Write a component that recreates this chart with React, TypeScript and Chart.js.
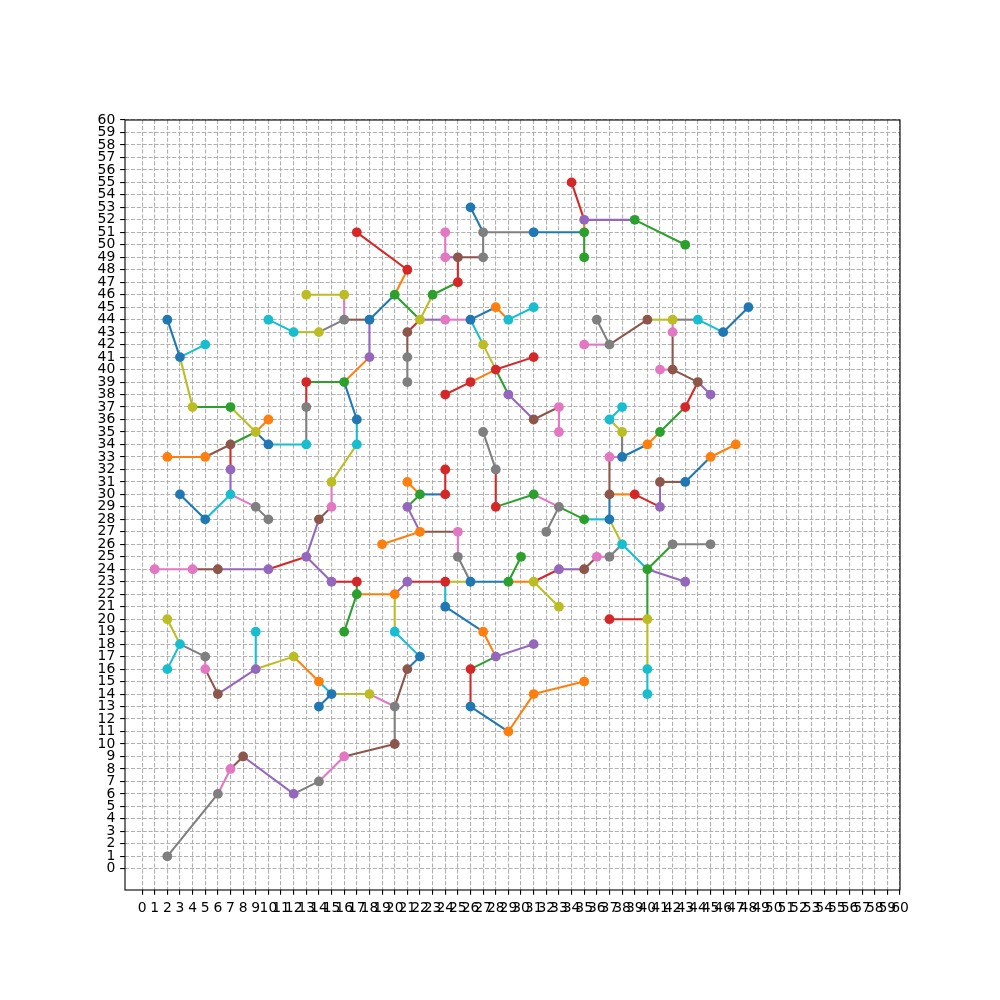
import React, { useEffect, useRef } from "react";
import { Chart, registerables } from "chart.js";

Chart.register(...registerables);

// ---- axis ticks ----
const xTickValues = [0,1,2,3,4,5,6,7,8,9,10,11,12,13,14,15,16,17,18,19,20,21,22,23,24,25,26,27,28,29,30,31,32,33,34,35,36,37,38,39,40,41,42,43,44,45,46,47,48,49,50,51,52,53,54,55,56,57,58,59,60];
const yTickValues = xTickValues;
const xLimits = [-1.35, 60];
const yLimits = [-1.7, 60];

// ---- edges (x1, y1, x2, y2) grouped by colour ----
const blueEdges = [
  [26,53,27,51],[31,51,35,51],[20,46,18,44],[16,39,17,36],[22,17,21,16],[15,14,14,13],
  [2,44,3,41],[9,35,10,34],[5,28,3,30],[26,44,28,45],[46,43,48,45],[40,34,38,33],
  [43,31,45,33],[37,30,37,28],[29,23,26,23],[22,30,24,30],[24,21,27,19],[26,13,29,11],
];
const orangeEdges = [
  [35,52,35,51],[20,46,21,48],[18,41,16,39],[17,22,20,22],[14,15,12,17],[9,35,10,36],
  [5,33,2,33],[28,45,29,44],[28,40,26,39],[41,35,40,34],[37,30,39,30],[45,33,47,34],
  [31,23,29,23],[22,27,19,26],[22,30,21,31],[27,19,28,17],[29,11,31,14],[31,14,35,15],
];
const greenEdges = [
  [39,52,43,50],[35,51,35,49],[25,47,23,46],[22,44,20,46],[16,39,13,39],[17,23,17,22],
  [17,22,16,19],[4,37,7,37],[9,35,7,34],[28,40,29,38],[43,37,41,35],[35,28,33,29],
  [31,30,28,29],[29,23,30,25],[21,29,22,30],[28,17,26,16],[40,24,42,26],[40,24,40,20],
];
const redEdges = [
  [34,55,35,52],[25,49,25,47],[21,48,17,51],[13,39,13,37],[13,25,10,24],[15,23,17,23],
  [7,34,7,32],[26,39,24,38],[28,40,31,41],[22,44,21,43],[44,39,43,37],[39,30,41,29],
  [28,29,28,32],[33,24,31,23],[24,30,24,32],[24,23,21,23],[26,16,26,13],[40,20,37,20],
];
const purpleEdges = [
  [35,52,39,52],[24,49,25,49],[18,44,18,41],[14,28,13,25],[10,24,6,24],[13,25,15,23],
  [9,16,6,14],[8,9,12,6],[7,32,7,30],[22,44,24,44],[29,38,31,36],[44,39,45,38],
  [41,29,41,31],[35,24,33,24],[22,27,21,29],[21,23,20,22],[28,17,31,18],[40,24,43,23],
];
const brownEdges = [
  [25,49,27,49],[18,44,16,44],[15,29,14,28],[6,24,4,24],[21,16,20,13],[6,14,5,16],
  [7,8,8,9],[16,9,20,10],[7,34,5,33],[31,36,33,37],[21,43,21,41],[37,42,40,44],
  [42,43,42,40],[42,40,44,39],[37,33,37,30],[41,31,43,31],[36,25,35,24],[25,27,22,27],
];
const pinkEdges = [
  [24,51,24,49],[16,44,16,46],[15,31,15,29],[4,24,1,24],[20,13,18,14],[5,16,5,17],
  [6,6,7,8],[14,7,16,9],[7,30,9,29],[24,44,26,44],[33,37,33,35],[37,42,35,42],
  [42,44,42,43],[42,40,41,40],[37,33,38,33],[31,30,33,29],[37,25,36,25],[25,25,25,27],
];
const grayEdges = [
  [27,51,31,51],[27,51,27,49],[16,44,14,43],[13,37,13,34],[20,13,20,10],[5,17,3,18],
  [2,1,6,6],[12,6,14,7],[9,29,10,28],[21,41,21,39],[36,44,37,42],[42,44,44,44],
  [38,35,38,33],[33,29,32,27],[28,32,27,35],[38,26,37,25],[26,23,25,25],[42,26,45,26],
];
const oliveEdges = [
  [23,46,22,44],[16,46,13,46],[14,43,12,43],[17,34,15,31],[20,22,20,19],[18,14,15,14],
  [12,17,9,16],[3,18,2,20],[3,41,4,37],[7,37,9,35],[27,42,28,40],[40,44,42,44],
  [37,36,38,35],[37,28,38,26],[31,23,33,21],[26,23,24,23],[40,20,40,16],
];
const cyanEdges = [
  [12,43,10,44],[17,36,17,34],[13,34,10,34],[20,19,22,17],[15,14,14,15],[9,16,9,19],
  [3,18,2,16],[3,41,5,42],[7,30,5,28],[29,44,31,45],[26,44,27,42],[44,44,46,43],
  [37,36,38,37],[37,28,35,28],[24,23,24,21],[38,26,40,24],[40,16,40,14],
];

// ---- visible markers (x, y) grouped by colour ----
const blueMarkers = [[26,53],[31,51],[18,44],[17,36],[22,17],[15,14],[14,13],[2,44],[3,41],[10,34],[5,28],[3,30],[26,44],[46,43],[48,45],[38,33],[43,31],[37,28],[26,23],[24,21],[26,13]];
const orangeMarkers = [[28,45],[10,36],[5,33],[2,33],[40,34],[45,33],[47,34],[22,27],[19,26],[21,31],[27,19],[29,11],[31,14],[35,15],[20,22],[14,15]];
const greenMarkers = [[39,52],[43,50],[35,51],[35,49],[23,46],[20,46],[16,39],[17,22],[16,19],[7,37],[41,35],[35,28],[31,30],[29,23],[30,25],[22,30],[40,24]];
const redMarkers = [[34,55],[25,47],[21,48],[17,51],[13,39],[17,23],[26,39],[24,38],[28,40],[31,41],[43,37],[39,30],[28,29],[24,30],[24,32],[24,23],[26,16],[37,20]];
const purpleMarkers = [[35,52],[18,41],[13,25],[10,24],[15,23],[9,16],[12,6],[7,32],[29,38],[45,38],[41,29],[33,24],[21,29],[21,23],[28,17],[31,18],[43,23]];
const brownMarkers = [[25,49],[14,28],[6,24],[21,16],[6,14],[8,9],[20,10],[7,34],[31,36],[21,43],[40,44],[42,40],[44,39],[41,31],[37,30],[35,24]];
const pinkMarkers = [[24,51],[24,49],[15,29],[4,24],[1,24],[5,16],[7,8],[16,9],[24,44],[33,37],[33,35],[35,42],[42,43],[41,40],[37,33],[25,27],[36,25]];
const grayMarkers = [[27,51],[27,49],[16,44],[13,37],[20,13],[5,17],[2,1],[6,6],[14,7],[9,29],[10,28],[21,41],[21,39],[36,44],[37,42],[33,29],[32,27],[28,32],[27,35],[37,25],[25,25],[42,26],[45,26]];
const oliveMarkers = [[16,46],[13,46],[14,43],[22,44],[15,31],[18,14],[12,17],[2,20],[4,37],[9,35],[27,42],[42,44],[38,35],[31,23],[33,21],[40,20]];
const cyanMarkers = [[12,43],[10,44],[17,34],[13,34],[20,19],[9,19],[3,18],[2,16],[5,42],[7,30],[29,44],[31,45],[44,44],[37,36],[38,37],[38,26],[40,16],[40,14]];

const groups = [
  { color: "#1f77b4", edges: blueEdges, markers: blueMarkers },
  { color: "#ff7f0e", edges: orangeEdges, markers: orangeMarkers },
  { color: "#2ca02c", edges: greenEdges, markers: greenMarkers },
  { color: "#d62728", edges: redEdges, markers: redMarkers },
  { color: "#9467bd", edges: purpleEdges, markers: purpleMarkers },
  { color: "#8c564b", edges: brownEdges, markers: brownMarkers },
  { color: "#e377c2", edges: pinkEdges, markers: pinkMarkers },
  { color: "#7f7f7f", edges: grayEdges, markers: grayMarkers },
  { color: "#bcbd22", edges: oliveEdges, markers: oliveMarkers },
  { color: "#17becf", edges: cyanEdges, markers: cyanMarkers },
];

const FONT = { family: "'DejaVu Sans', sans-serif", size: 13.9 };

const framePlugin = {
  id: "frame",
  afterDraw(chart: any) {
    const { ctx, chartArea: a } = chart;
    ctx.save();
    ctx.strokeStyle = "#000";
    ctx.lineWidth = 1.1;
    ctx.strokeRect(a.left, a.top, a.right - a.left, a.bottom - a.top);
    ctx.restore();
  },
};

export default function App() {
  const ref = useRef<HTMLCanvasElement | null>(null);

  useEffect(() => {
    if (!ref.current) return;
    const datasets: any[] = [];
    groups.forEach((g) => {
      g.edges.forEach((e) => {
        datasets.push({
          data: [{ x: e[0], y: e[1] }, { x: e[2], y: e[3] }],
          showLine: true,
          borderColor: g.color,
          borderWidth: 2.08,
          pointRadius: 0,
          pointHoverRadius: 0,
          order: 1,
        });
      });
    });
    groups.forEach((g) => {
      datasets.push({
        data: g.markers.map((p) => ({ x: p[0], y: p[1] })),
        showLine: false,
        backgroundColor: g.color,
        borderColor: g.color,
        borderWidth: 0,
        pointRadius: 4.9,
        pointHoverRadius: 4.9,
        order: 0,
      });
    });

    const mkTicks = (vals: number[]) => (scale: any) => {
      scale.ticks = vals.map((v) => ({ value: v }));
    };

    const chart = new Chart(ref.current, {
      type: "scatter",
      data: { datasets },
      plugins: [framePlugin],
      options: {
        animation: false,
        responsive: false,
        devicePixelRatio: 1,
        events: [],
        layout: { padding: { left: 0, top: 120, right: 100, bottom: 0 } },
        plugins: { legend: { display: false }, tooltip: { enabled: false } },
        scales: {
          x: {
            type: "linear",
            min: xLimits[0],
            max: xLimits[1],
            afterBuildTicks: mkTicks(xTickValues),
            afterFit: (s: any) => { s.height = 110; },
            ticks: {
              autoSkip: false,
              maxRotation: 0,
              minRotation: 0,
              color: "#000",
              font: FONT,
              padding: 4.86,
              callback: (v: any) => String(v),
            },
            grid: {
              color: "#b0b0b0",
              lineWidth: 1.1,
              drawTicks: true,
              tickLength: 4.86,
              tickColor: "#000",
              tickWidth: 1.1,
            },
            border: { display: false, dash: [4.1, 1.8] },
          },
          y: {
            type: "linear",
            min: yLimits[0],
            max: yLimits[1],
            afterBuildTicks: mkTicks(yTickValues),
            afterFit: (s: any) => { s.width = 125; },
            ticks: {
              autoSkip: false,
              color: "#000",
              font: FONT,
              padding: 4.86,
              callback: (v: any) => String(v),
            },
            grid: {
              color: "#b0b0b0",
              lineWidth: 1.1,
              drawTicks: true,
              tickLength: 4.86,
              tickColor: "#000",
              tickWidth: 1.1,
            },
            border: { display: false, dash: [4.1, 1.8] },
          },
        },
      } as any,
    });
    return () => chart.destroy();
  }, []);

  return (
    <div style={{ position: "absolute", left: 0, top: 0, width: 1000, height: 1000, background: "#fff" }}>
      <canvas ref={ref} width={1000} height={1000} style={{ display: "block", width: 1000, height: 1000 }} />
    </div>
  );
}
